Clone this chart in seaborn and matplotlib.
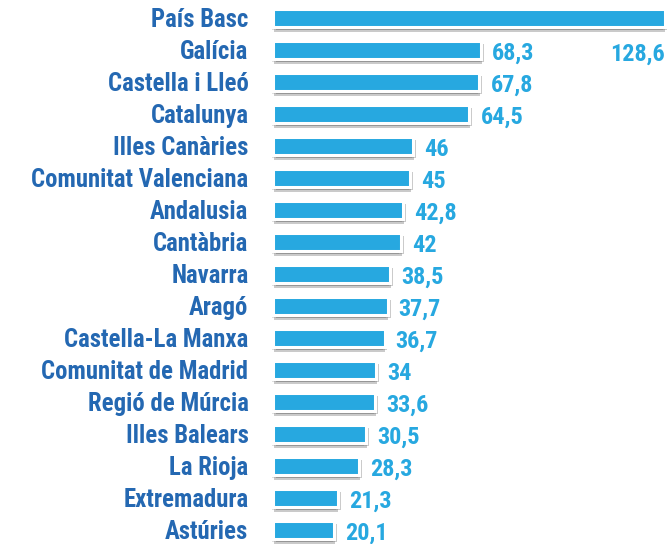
import seaborn as sns
import matplotlib.pyplot as plt
import matplotlib.patheffects as pe

regions = ['País Basc', 'Galícia', 'Castella i Lleó', 'Catalunya', 'Illes Canàries',
           'Comunitat Valenciana', 'Andalusia', 'Cantàbria', 'Navarra', 'Aragó',
           'Castella-La Manxa', 'Comunitat de Madrid', 'Regió de Múrcia', 'Illes Balears',
           'La Rioja', 'Extremadura', 'Astúries']
values = [128.6, 68.3, 67.8, 64.5, 46, 45, 42.8, 42, 38.5, 37.7, 36.7, 34, 33.6, 30.5,
          28.3, 21.3, 20.1]
value_labels = ['128,6', '68,3', '67,8', '64,5', '46', '45', '42,8', '42', '38,5', '37,7',
                '36,7', '34', '33,6', '30,5', '28,3', '21,3', '20,1']

sns.set_style('white')
plt.rcParams['font.family'] = ['Roboto Condensed', 'Liberation Sans Narrow', 'Roboto', 'DejaVu Sans']
plt.rcParams['font.stretch'] = 'condensed'

bar_blue = '#27a8e0'
label_blue = '#2468b2'

fig = plt.figure(figsize=(6.72, 5.44), dpi=100)
ax = fig.add_axes([272 / 672, 0, 400 / 672, 1])

sns.barplot(x=values, y=regions, orient='h', color=bar_blue, saturation=1,
            width=0.56, edgecolor='white', linewidth=2.2, ax=ax)

# soft grey drop shadow under each bar
shadow = [pe.SimplePatchShadow(offset=(0.5, -3.5), shadow_rgbFace='#444444', alpha=0.28),
          pe.SimplePatchShadow(offset=(2, -2.5), shadow_rgbFace='#444444', alpha=0.28),
          pe.SimplePatchShadow(offset=(-1, -2), shadow_rgbFace='#444444', alpha=0.16),
          pe.Normal()]
for patch in ax.patches:
    patch.set_path_effects(shadow)

ax.set_xlim(-0.3, 131)
ax.set_ylim(16.44, -0.56)
sns.despine(ax=ax, left=True, bottom=True)
ax.set_xticks([])
ax.set_ylabel('')
ax.set_xlabel('')
ax.tick_params(axis='y', length=0, pad=17)
for lbl in ax.get_yticklabels():
    lbl.set_fontsize(17.8)
    lbl.set_fontweight('bold')
    lbl.set_color(label_blue)

for i, (v, t) in enumerate(zip(values, value_labels)):
    if i == 0:
        ax.text(v, 1.12, t, ha='right', va='center', fontsize=17.5, fontweight='bold', color=bar_blue)
    else:
        ax.text(v + 3.6, i + 0.1, t, ha='left', va='center', fontsize=17.5, fontweight='bold', color=bar_blue)

fig.savefig('out.png', dpi=100)
